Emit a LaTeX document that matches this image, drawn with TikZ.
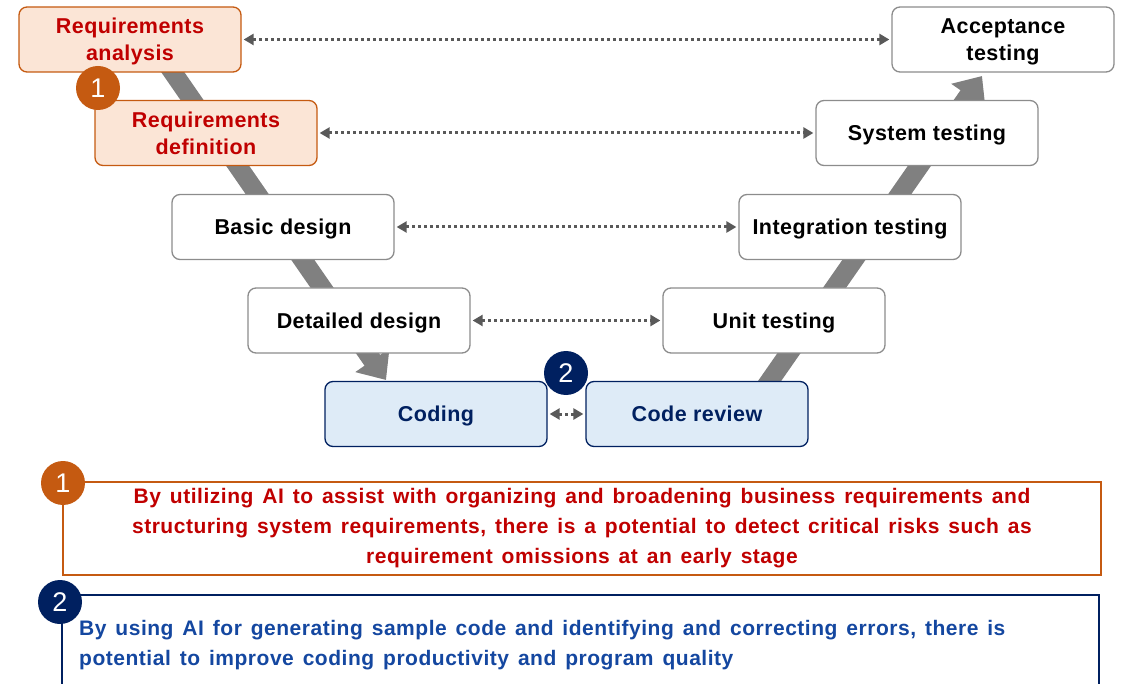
\documentclass[tikz,border=0pt]{standalone}
\usepackage{fontspec}
\setmainfont{Liberation Sans}
\newfontfamily\boxfont[LetterSpace=2]{Liberation Sans}
\newfontfamily\notefont[LetterSpace=2.5,WordSpace=1.4]{Liberation Sans}
\usetikzlibrary{arrows.meta}
\definecolor{orfill}{HTML}{FBE5D6}
\definecolor{ordraw}{HTML}{C55A11}
\definecolor{redtxt}{HTML}{C00000}
\definecolor{navy}{HTML}{002060}
\definecolor{bluefill}{HTML}{DEEBF7}
\definecolor{bluetxt}{HTML}{1447A0}
\definecolor{boxgray}{HTML}{8C8C8C}
\definecolor{bandgray}{HTML}{808080}
\definecolor{dotgray}{HTML}{595959}
\tikzset{
  phase/.style={draw=boxgray, line width=1.3pt, fill=white, rounded corners=8pt,
    minimum width=222pt, minimum height=65pt, align=center, text depth=0pt,
    font=\boxfont\fontsize{21.5}{27}\selectfont\bfseries, inner sep=0pt},
  reqbox/.style={phase, draw=ordraw, fill=orfill, text=redtxt},
  codebox/.style={phase, draw=navy, fill=bluefill, text=navy},
  band/.style={draw=bandgray, line width=19pt,
    -{Triangle[width=40pt,length=24pt]}},
  trace/.style={draw=dotgray, line width=3pt, dash pattern=on 3pt off 3pt,
    {Triangle[width=11pt,length=10pt]}-{Triangle[width=11pt,length=10pt]},
    shorten <=2pt, shorten >=2pt},
  badge/.style={circle, inner sep=0pt, minimum size=44pt, text=white,
    font=\fontsize{27}{27}\selectfont},
  note/.style={line width=2.5pt},
  notetext/.style={font=\notefont\fontsize{21}{30}\selectfont\bfseries}
}
\begin{document}
\begin{tikzpicture}[x=1pt, y=-1pt]
\useasboundingbox (0,0) rectangle (1124,684);

% gray V band (drawn first so the boxes sit on top)
\coordinate (vl) at (147,35);
\coordinate (vb) at (386,380);
\coordinate (wr) at (748,412);
\coordinate (wt) at (982,76);
\draw[band] (vl) -- (vb);
\draw[band] (wr) -- (wt);

% left leg
\node[reqbox] (ra) at (130,39.5) {Requirements\\analysis};
\node[reqbox] (rd) at (206,133) {Requirements\\definition};
\node[phase] (bd) at (283,227) {Basic design};
\node[phase] (dd) at (359,320.5) {Detailed design};
\node[codebox] (cd) at (436,414) {Coding};
% right leg
\node[codebox] (cr) at (697,414) {Code review};
\node[phase] (ut) at (774,320.5) {Unit testing};
\node[phase] (it) at (850,227) {Integration testing};
\node[phase] (st) at (927,133) {System testing};
\node[phase] (at) at (1003,39.5) {Acceptance\\testing};

% correspondence between levels
\draw[trace] (ra.east) -- (at.west);
\draw[trace] (rd.east) -- (st.west);
\draw[trace] (bd.east) -- (it.west);
\draw[trace] (dd.east) -- (ut.west);
\draw[trace] (cd.east) -- (cr.west);

% badges on the diagram
\node[badge, fill=ordraw] (b1) at (98,88) {1};
\node[badge, fill=navy] (b2) at (566,373) {2};

% explanation panels
\draw[note, draw=ordraw] (63,482) rectangle (1101,575);
\node[badge, fill=ordraw] (n1) at (63,483) {1};
\node[notetext, text=redtxt, align=center] (t1) at (582,528)
  {By utilizing AI to assist with organizing and broadening business requirements and\\
   structuring system requirements, there is a potential to detect critical risks such as\\
   requirement omissions at an early stage};

\draw[note, draw=navy] (62,700) -- (62,595) -- (1099,595) -- (1099,700);
\node[badge, fill=navy] (n2) at (60,602) {2};
\node[notetext, text=bluetxt, align=left, anchor=north west, inner sep=0pt] (t2) at (79,620)
  {By using AI for generating sample code and identifying and correcting errors, there is\\
   potential to improve coding productivity and program quality};
\end{tikzpicture}
\end{document}
